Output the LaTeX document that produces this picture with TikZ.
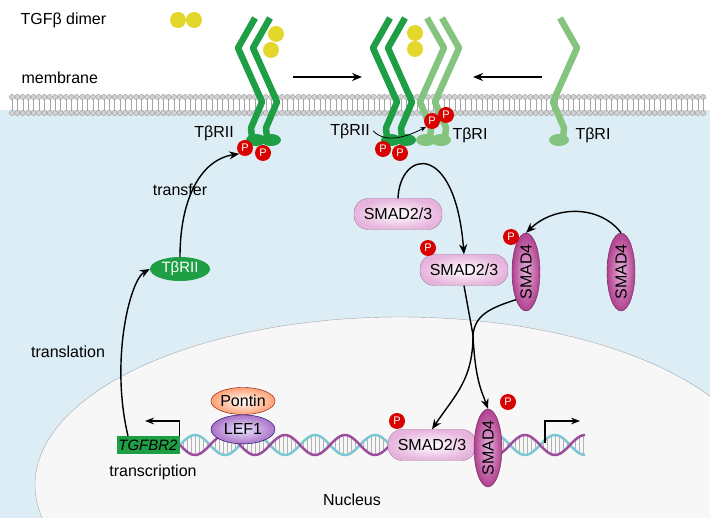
\documentclass[tikz,border=0pt]{standalone}
\usepackage{fontspec}
\setmainfont{Liberation Sans}
\usetikzlibrary{arrows.meta,positioning,shapes.geometric}
\definecolor{cyto}{HTML}{DDEDF5}
\definecolor{darkrec}{HTML}{1E9E45}
\definecolor{lightrec}{HTML}{84C47E}
\definecolor{smadpink}{HTML}{E6B3DC}
\definecolor{smadmag}{HTML}{B0408E}
\definecolor{dnapurple}{HTML}{9C4E9E}
\definecolor{dnacyan}{HTML}{79C8D3}
\definecolor{ligand}{HTML}{E3D72C}
\tikzset{
  lbl/.style={font=\fontsize{16}{18}\selectfont},
  phos/.style={circle, fill=red!85!black, text=white, inner sep=0pt, minimum size=16pt, font=\fontsize{11}{12}\selectfont},
  smad/.style={rounded corners=14pt, draw=smadpink!70!black, inner color=white, outer color=smadpink, minimum width=88pt, minimum height=31pt, inner sep=1pt, font=\fontsize{16}{18}\selectfont},
  smadfour/.style={ellipse, draw=smadmag!60!black, inner color=smadpink, outer color=smadmag, minimum width=28pt, minimum height=75pt, inner sep=0pt, font=\fontsize{16}{18}\selectfont},
  flow/.style={-{Stealth[length=10pt,width=8pt]}, line width=1.4pt},
  recep/.style={line width=6.5pt, line join=round}
}
\newcommand{\recep}[3]{% x offset, mirror, color
  \draw[recep, #3] ({#1},18) -- ({#1-#2*17},48) -- ({#1+#2*4},95) -- ({#1+#2*7},102) -- ({#1-#2*4},128) -- ({#1-#2*3},138);
  \fill[#3] ({#1+#2*1},140) ellipse (10pt and 6pt);
}
\begin{document}
\begin{tikzpicture}[x=1pt,y=-1pt]
\useasboundingbox (0,0) rectangle (710,518);
% Cytoplasm and nucleus
\fill[cyto] (0,110) rectangle (710,518);
\begin{scope}
\clip (0,110) rectangle (710,518);
\draw[gray!70, fill=gray!6] (400,485) ellipse (365pt and 168pt);
\end{scope}
% Membrane
\foreach \i in {0,...,128}{
  \draw[gray!70] ({12+5.4*\i},99) -- ({12+5.4*\i},111);
  \filldraw[draw=gray!80, fill=gray!35] ({12+5.4*\i},97) circle (2.6pt);
  \filldraw[draw=gray!80, fill=gray!35] ({12+5.4*\i},113) circle (2.6pt);
}
\node[lbl, anchor=west] (memb) at (18,78) {membrane};
\node[lbl, anchor=west] (dimer) at (17,20) {TGFβ dimer};
\fill[ligand] (178,20) circle (8pt) (194,20) circle (8pt);
% Receptors
\recep{255}{1}{darkrec}
\recep{270}{1}{darkrec}
\fill[ligand] (276,34) circle (8pt) (271,50) circle (8pt);
\recep{390}{1}{darkrec}
\recep{405}{1}{darkrec}
\recep{442}{-1}{lightrec}
\recep{427}{-1}{lightrec}
\fill[ligand] (415,33) circle (8pt) (415,49) circle (8pt);
\recep{560}{-1}{lightrec}
\coordinate (ra) at (293,77);
\coordinate (rb) at (362,77);
\coordinate (rc) at (542,77);
\coordinate (rd) at (473,77);
\draw[flow] (ra) -- (rb);
\draw[flow] (rc) -- (rd);
\node[lbl] (rtwoa) at (214,133) {TβRII};
\node[lbl] (rtwob) at (350,131) {TβRII};
\node[lbl] (ronea) at (470,135) {TβRI};
\node[lbl] (roneb) at (593,135) {TβRI};
\node[phos] (pa) at (245,148) {P};
\node[phos] (pb) at (263,153) {P};
\node[phos] (pc) at (383,149) {P};
\node[phos] (pd) at (400,153) {P};
\node[phos] (pe) at (432,121) {P};
\node[phos] (pf) at (446,115) {P};
\draw[-{Stealth[length=6pt]}, thick] (rtwob.east) .. controls (385,143) and (405,138) .. (pe.south west);
% Cytoplasmic SMADs
\node[smad] (smadfree) at (398,214) {SMAD2/3};
\node[smad] (smadc) at (464,270) {SMAD2/3};
\node[phos] (pg) at (428,248) {P};
\node[smadfour] (smadfc) at (526,272) {\rotatebox{90}{SMAD4}};
\node[phos] (ph) at (511,237) {P};
\node[smadfour] (smadff) at (621,272) {\rotatebox{90}{SMAD4}};
\draw[flow] (smadfree.north) .. controls (400,150) and (455,140) .. (smadc.north);
\draw[flow] (smadff.north) .. controls (600,205) and (555,205) .. (smadfc.north);
\coordinate (split) at (473,335);
\draw[line width=1.4pt] (smadc.south) -- (split);
\draw[line width=1.4pt] (smadfc.south west) .. controls (490,308) and (475,315) .. (split);
% Nucleus content
\node[lbl] (nuc) at (352,500) {Nucleus};
\draw[dnacyan, line width=2.5pt] plot[domain=180:585, samples=200] (\x,{445-10*sin((\x-180)*6)});
\foreach \x in {183,187,...,583}{
  \draw[gray!60] (\x,{445+9*sin((\x-180)*6)}) -- (\x,{445-9*sin((\x-180)*6)});
}
\draw[dnapurple, line width=2.5pt] plot[domain=180:585, samples=200] (\x,{445+10*sin((\x-180)*6)});
\node[fill=darkrec, minimum width=63pt, minimum height=18pt, inner sep=0pt, font=\fontsize{15}{17}\selectfont\itshape] (gene) at (148,445) {TGFBR2};
\coordinate (tssa) at (145,421);
\draw[-{Stealth[length=9pt]}, line width=1.4pt] (gene.north east) |- (tssa);
\coordinate (tssb) at (580,421);
\draw[-{Stealth[length=9pt]}, line width=1.4pt] (545,443) |- (tssb);
\node[lbl] (trans) at (153,472) {transcription};
\node[ellipse, draw=red!50!black, inner color=white, outer color=red!35!orange!55, minimum width=64pt, minimum height=27pt, inner sep=0pt, font=\fontsize{16}{18}\selectfont] (pontin) at (243,401) {Pontin};
\node[ellipse, draw=blue!40!black, inner color=blue!10, outer color=blue!45!purple!55, minimum width=64pt, minimum height=29pt, inner sep=0pt, font=\fontsize{16}{18}\selectfont, below=0pt of pontin] (lef) {LEF1};
\node[smad] (smadn) at (432,445) {SMAD2/3};
\node[phos] (pi) at (397,421) {P};
\node[smadfour] (smadfn) at (488,448) {\rotatebox{90}{SMAD4}};
\node[phos] (pj) at (508,402) {P};
\draw[flow] (split) .. controls (473,380) and (455,395) .. (smadn.north);
\draw[flow] (split) .. controls (475,380) and (482,392) .. (smadfn.north);
% Receptor synthesis
\node[ellipse, fill=darkrec, text=white, minimum width=60pt, minimum height=24pt, inner sep=0pt, font=\fontsize{15}{17}\selectfont] (rtwoc) at (180,269) {TβRII};
\coordinate (geneup) at (128,436);
\draw[flow] (geneup) .. controls (110,360) and (130,280) .. (rtwoc.west);
\draw[flow] (rtwoc.north) .. controls (180,200) and (200,160) .. (pa.south west);
\node[lbl] (tlabel) at (68,352) {translation};
\node[lbl] (flabel) at (180,190) {transfer};
\end{tikzpicture}
\end{document}
